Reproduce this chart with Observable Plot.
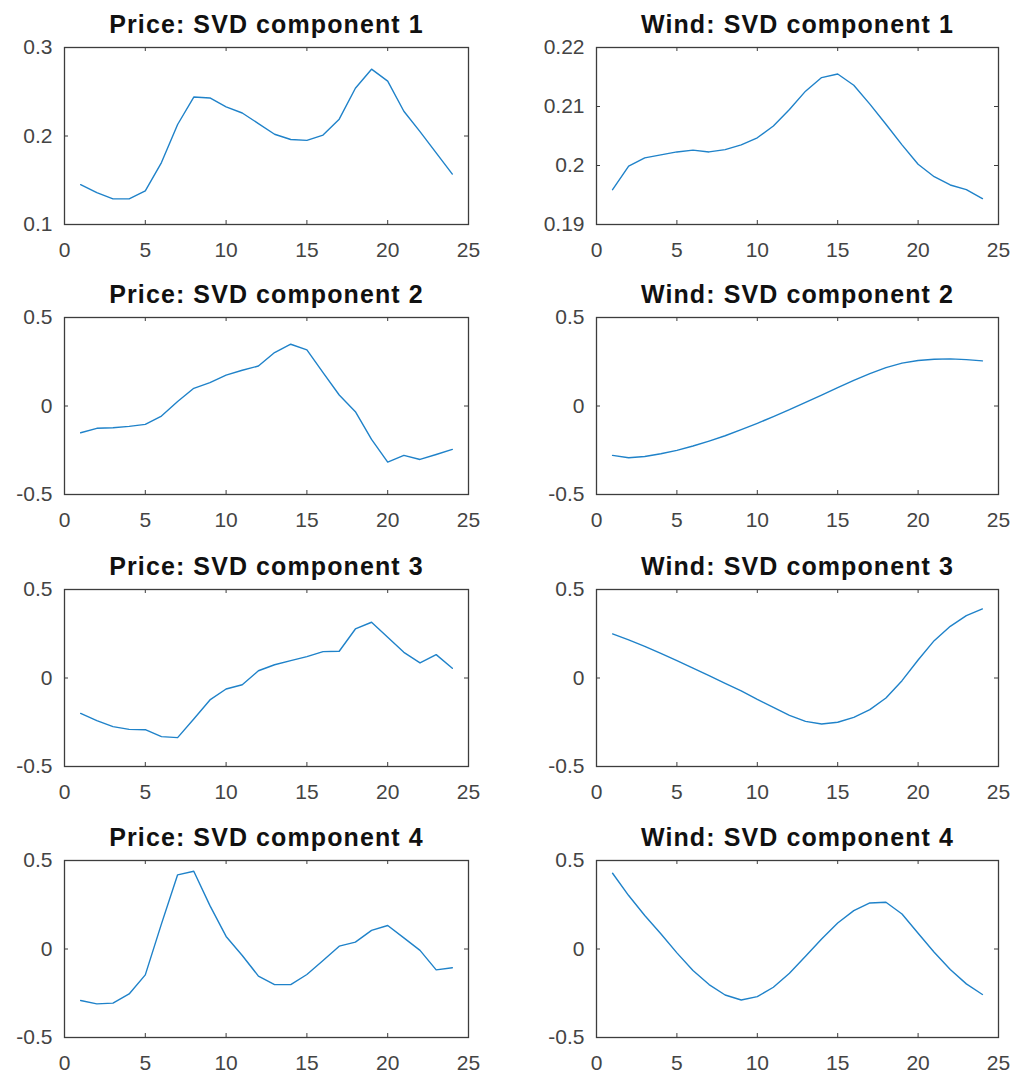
<!DOCTYPE html>
<html>
<head>
<meta charset="utf-8">
<script src="https://cdn.jsdelivr.net/npm/d3@7"></script>
<script src="https://cdn.jsdelivr.net/npm/@observablehq/plot@0.6"></script>
<style>
  html, body { margin: 0; padding: 0; background: #fff; }
  #chart { position: relative; width: 1018px; height: 1079px; overflow: hidden; }
  #chart svg { position: absolute; }
</style>
</head>
<body>
<div id="chart"></div>
<script>
// Hour of day (1..24)
const hours = [1, 2, 3, 4, 5, 6, 7, 8, 9, 10, 11, 12, 13, 14, 15, 16, 17, 18, 19, 20, 21, 22, 23, 24];

// Singular vectors of the hourly price profiles
const priceComp1 = [0.145, 0.136, 0.129, 0.129, 0.138, 0.170, 0.213, 0.244, 0.243, 0.233, 0.226, 0.214,
                    0.202, 0.196, 0.195, 0.201, 0.219, 0.254, 0.2755, 0.262, 0.228, 0.205, 0.181, 0.157];
const priceComp2 = [-0.151, -0.126, -0.123, -0.115, -0.104, -0.057, 0.025, 0.100, 0.132, 0.174, 0.202, 0.226,
                    0.302, 0.349, 0.317, 0.189, 0.062, -0.032, -0.189, -0.317, -0.279, -0.302, -0.274, -0.245];
const priceComp3 = [-0.200, -0.241, -0.275, -0.290, -0.292, -0.331, -0.337, -0.232, -0.124, -0.062, -0.038, 0.041,
                    0.075, 0.098, 0.121, 0.149, 0.151, 0.277, 0.315, 0.230, 0.145, 0.085, 0.132, 0.055];
const priceComp4 = [-0.291, -0.310, -0.306, -0.254, -0.146, 0.142, 0.419, 0.439, 0.245, 0.071, -0.037, -0.153,
                    -0.201, -0.201, -0.144, -0.065, 0.016, 0.039, 0.105, 0.133, 0.063, -0.008, -0.118, -0.106];

// Singular vectors of the hourly wind profiles
const windComp1 = [0.1959, 0.1999, 0.2013, 0.2018, 0.2023, 0.2026, 0.2023, 0.2027, 0.2035, 0.2047, 0.2067, 0.2095,
                   0.2126, 0.2149, 0.2155, 0.2136, 0.2104, 0.2070, 0.2035, 0.2002, 0.1981, 0.1967, 0.1959, 0.1944];
const windComp2 = [-0.279, -0.292, -0.285, -0.270, -0.251, -0.226, -0.198, -0.168, -0.134, -0.098, -0.060, -0.021,
                   0.021, 0.062, 0.104, 0.145, 0.183, 0.217, 0.242, 0.257, 0.264, 0.266, 0.262, 0.255];
const windComp3 = [0.249, 0.215, 0.179, 0.139, 0.098, 0.056, 0.013, -0.030, -0.073, -0.121, -0.166, -0.211,
                   -0.245, -0.260, -0.250, -0.222, -0.179, -0.113, -0.015, 0.102, 0.211, 0.292, 0.352, 0.390];
const windComp4 = [0.428, 0.302, 0.189, 0.086, -0.022, -0.122, -0.201, -0.260, -0.288, -0.269, -0.216, -0.137,
                   -0.041, 0.057, 0.147, 0.217, 0.260, 0.264, 0.198, 0.089, -0.018, -0.116, -0.197, -0.257];

// Axis ticks
const xTicks = [0, 5, 10, 15, 20, 25];
const priceComp1Ticks = [0.1, 0.2, 0.3];
const windComp1Ticks = [0.19, 0.2, 0.21, 0.22];
const symTicks = [-0.5, 0, 0.5];

const panels = [
  {title: "Price: SVD component 1", values: priceComp1, yTicks: priceComp1Ticks, row: 0, col: 0},
  {title: "Wind: SVD component 1",  values: windComp1,  yTicks: windComp1Ticks,  row: 0, col: 1},
  {title: "Price: SVD component 2", values: priceComp2, yTicks: symTicks, row: 1, col: 0},
  {title: "Wind: SVD component 2",  values: windComp2,  yTicks: symTicks, row: 1, col: 1},
  {title: "Price: SVD component 3", values: priceComp3, yTicks: symTicks, row: 2, col: 0},
  {title: "Wind: SVD component 3",  values: windComp3,  yTicks: symTicks, row: 2, col: 1},
  {title: "Price: SVD component 4", values: priceComp4, yTicks: symTicks, row: 3, col: 0},
  {title: "Wind: SVD component 4",  values: windComp4,  yTicks: symTicks, row: 3, col: 1}
];

// Grid layout of the 4x2 small multiples
const boxTops = [47, 317, 589, 860];
const boxH = 177;
const cols = [
  {left: 0,   ml: 64, mr: 41},
  {left: 509, ml: 87, mr: 20}
];
const W = 509, MT = 47, MB = 45;
const axisColor = "#3d3d3d";
const lineColor = "#1f82c9";
const font = "'Liberation Sans', Arial, Helvetica, sans-serif";

const chart = document.getElementById("chart");

for (const p of panels) {
  const c = cols[p.col];
  const boxW = W - c.ml - c.mr;
  const data = hours.map((h, i) => ({hour: h, value: p.values[i]}));
  const yDomain = [p.yTicks[0], p.yTicks[p.yTicks.length - 1]];
  const innerX = xTicks.slice(1, -1);
  const innerY = p.yTicks.slice(1, -1);

  const svg = Plot.plot({
    width: W,
    height: MT + boxH + MB,
    marginTop: MT, marginBottom: MB, marginLeft: c.ml, marginRight: c.mr,
    x: {domain: [0, 25]},
    y: {domain: yDomain},
    style: {fontFamily: font, fontSize: "21px", color: axisColor, background: "transparent", overflow: "visible"},
    marks: [
      // inward ticks on all four sides of the box
      Plot.tickX(innerX, {x: d => d, insetTop: boxH - 4, stroke: axisColor}),
      Plot.tickX(innerX, {x: d => d, insetBottom: boxH - 4, stroke: axisColor}),
      Plot.tickY(innerY, {y: d => d, insetRight: boxW - 4, stroke: axisColor}),
      Plot.tickY(innerY, {y: d => d, insetLeft: boxW - 4, stroke: axisColor}),
      Plot.axisX(xTicks, {anchor: "bottom", tickSize: 0, tickPadding: 18, label: null, fill: "#444"}),
      Plot.axisY(p.yTicks, {anchor: "left", tickSize: 0, tickPadding: 12, label: null, fill: "#444",
                            tickFormat: d => String(d)}),
      Plot.line(data, {x: "hour", y: "value", stroke: lineColor, strokeWidth: 1.4}),
      Plot.frame({stroke: axisColor, strokeWidth: 1.3}),
      Plot.text([p.title], {text: d => d, frameAnchor: "top", dy: -15, lineAnchor: "bottom",
                            fontSize: 25, fontWeight: "bold", fill: "#111"})
    ]
  });

  const titleGroup = svg.querySelector('g[font-weight="bold"]');
  if (titleGroup) titleGroup.setAttribute("letter-spacing", "1.1");

  svg.style.left = c.left + "px";
  svg.style.top = (boxTops[p.row] - MT) + "px";
  chart.appendChild(svg);
}
</script>
</body>
</html>
